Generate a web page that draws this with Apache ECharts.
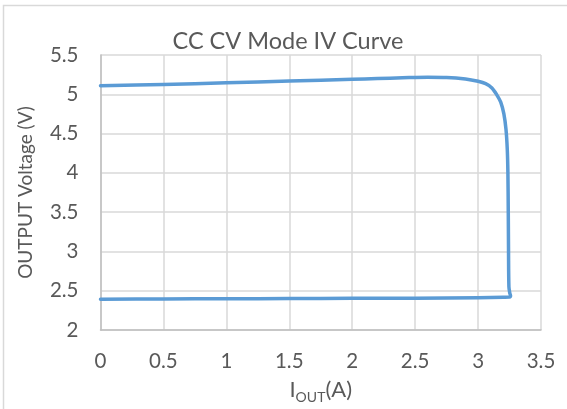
<!DOCTYPE html>
<html>
<head>
<meta charset="utf-8">
<script src="https://cdn.jsdelivr.net/npm/echarts@6/dist/echarts.min.js"></script>
<style>html,body{margin:0;padding:0;background:#fff;}#c{width:567px;height:409px;}</style>
</head>
<body>
<div id="c"></div>
<script>
const currentA = [0, 0.5, 1, 1.5, 2, 2.5, 3.0, 3.2, 3.25, 3.258, 3.252, 3.245, 3.242, 3.24, 3.237, 3.232, 3.222, 3.205, 3.18, 3.15, 3.11, 3.06, 3.0, 2.9, 2.75, 2.6, 2.4, 2.2, 2.0, 1.5, 1.0, 0.5, 0];
const voltageV = [2.392, 2.395, 2.398, 2.400, 2.403, 2.405, 2.412, 2.418, 2.42, 2.435, 2.47, 2.55, 3.0, 3.5, 4.0, 4.3, 4.55, 4.75, 4.9, 4.99, 5.08, 5.135, 5.165, 5.195, 5.215, 5.218, 5.21, 5.2, 5.19, 5.168, 5.146, 5.126, 5.11];
const xTicks = [0, 0.5, 1, 1.5, 2, 2.5, 3, 3.5];
const yTicks = [2, 2.5, 3, 3.5, 4, 4.5, 5, 5.5];
const titleText = 'CC CV Mode IV Curve';
const yName = 'OUTPUT Voltage (V)';

const FONT = 'Lato';
const TXT = '#595959';
const chart = echarts.init(document.getElementById('c'), null, {renderer: 'canvas'});
chart.setOption({
  animation: false,
  backgroundColor: '#fff',
  title: {
    text: titleText, left: 283, top: 24, textAlign: 'center',
    textStyle: {fontFamily: FONT, fontSize: 23.5, fontWeight: 'normal', color: TXT}
  },
  graphic: [{
    type: 'rect', shape: {x: 3.5, y: 5.5, width: 700, height: 600},
    style: {fill: 'none', stroke: '#d9d9d9', lineWidth: 1.5}, silent: true
  }],
  grid: {left: 100.5, right: 26, top: 55, bottom: 77, containLabel: false},
  xAxis: {
    type: 'value', min: xTicks[0], max: xTicks[xTicks.length - 1], interval: 0.5,
    name: '{a|I}{b|OUT}{a|(A)}', nameLocation: 'middle', nameGap: 46,
    nameTextStyle: {
      rich: {
        a: {fontFamily: FONT, fontSize: 22, color: TXT, lineHeight: 28, verticalAlign: 'middle'},
        b: {fontFamily: FONT, fontSize: 14, color: TXT, lineHeight: 28, verticalAlign: 'bottom'}
      }
    },
    axisLine: {show: true, lineStyle: {color: '#bfbfbf', width: 1.5}},
    axisTick: {show: false},
    axisLabel: {fontFamily: FONT, fontSize: 20.5, color: TXT, margin: 21},
    splitLine: {show: true, lineStyle: {color: '#d9d9d9', width: 1.5}}
  },
  yAxis: {
    type: 'value', min: yTicks[0], max: yTicks[yTicks.length - 1], interval: 0.5,
    name: yName, nameLocation: 'middle', nameGap: 65,
    nameTextStyle: {fontFamily: FONT, fontSize: 19, color: TXT},
    axisLine: {show: true, lineStyle: {color: '#bfbfbf', width: 1.5}},
    axisTick: {show: false},
    axisLabel: {fontFamily: FONT, fontSize: 20.5, color: TXT, margin: 22},
    splitLine: {show: true, lineStyle: {color: '#d9d9d9', width: 1.5}}
  },
  series: [{
    type: 'line',
    data: currentA.map((x, i) => [x, voltageV[i]]),
    showSymbol: false, smooth: 0.3,
    lineStyle: {color: '#5b9bd5', width: 3.5, cap: 'round', join: 'round'},
    clip: false
  }]
});
</script>
</body>
</html>
